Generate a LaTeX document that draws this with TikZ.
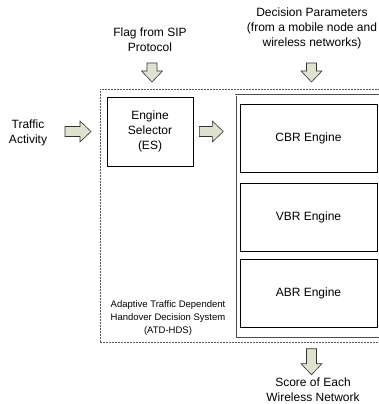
\documentclass[tikz,border=0pt]{standalone}
\usepackage{fontspec}
\setmainfont{Liberation Sans}
\usepackage{tikz}
\definecolor{arrowfill}{RGB}{222,226,206}

% fat outlined arrow: #1 tip point, #2 direction angle, #3 length
\newcommand{\blockarrow}[3]{%
  \draw[arrowline, shift={(#1)}, rotate=#2]
    (0,0) -- (-11,-10.5) -- (-11,-5) -- (-#3,-5) -- (-#3,5) -- (-11,5) -- (-11,10.5) -- cycle;}

\begin{document}
\begin{tikzpicture}[x=1pt, y=-1pt,
  lbl/.style={align=center, inner sep=0pt, font=\fontsize{12}{15}\selectfont},
  smalllbl/.style={align=center, inner sep=0pt, font=\fontsize{9.5}{13}\selectfont},
  plainbox/.style={draw=black, line width=0.6pt, inner sep=0pt, align=center, font=\fontsize{12}{15}\selectfont},
  arrowline/.style={draw=black!80, fill=arrowfill, line width=0.6pt, line join=miter}]
  % Picture area (the system box runs off the right edge)
  \clip (0,0) rectangle (379,404);

  % Dashed system boundary and the engine group
  \node[draw=black!65, dash pattern=on 2pt off 1pt, line width=0.7pt, minimum width=300pt, minimum height=253pt, anchor=north west, inner sep=0pt] (sys) at (100,89) {};
  \node[draw=black!70, double, double distance=0.9pt, line width=0.5pt, minimum width=170pt, minimum height=243pt, anchor=north west, inner sep=0pt] (engines) at (235.5,95) {};

  % Selector and engines
  \node[plainbox, minimum width=86pt, minimum height=69pt] (es) at (150,131.5) {Engine\\Selector\\(ES)};
  \node[plainbox, minimum width=137pt, minimum height=68pt] (cbr) at (308.5,138) {CBR Engine};
  \node[plainbox, minimum width=137pt, minimum height=68pt] (vbr) at (308.5,217) {VBR Engine};
  \node[plainbox, minimum width=137pt, minimum height=68pt] (abr) at (308.5,293) {ABR Engine};

  % Labels
  \node[lbl] (flag) at (150,40) {Flag from SIP\\Protocol};
  \node[lbl] (params) at (312,28.5) {Decision Parameters\\(from a mobile node and\\wireless networks)};
  \node[lbl] (traffic) at (28,133) {Traffic\\Activity};
  \node[lbl] (score) at (313,389.5) {Score of Each\\Wireless Network};
  \node[smalllbl] (sysname) at (168,318) {Adaptive Traffic Dependent\\Handover Decision System\\(ATD-HDS)};

  % Arrow tips
  \coordinate (flagtip) at ([xshift=2pt, yshift=7pt]sys.north -| es.center);
  \coordinate (paramtip) at ([xshift=3pt, yshift=7pt]sys.north -| cbr.center);
  \coordinate (intip) at ([xshift=-9pt]sys.west |- es.center);
  \coordinate (estip) at ([xshift=30pt]es.east);
  \coordinate (scoretip) at ([xshift=3pt, yshift=-32pt]sys.south -| cbr.center);

  % Block arrows
  \blockarrow{flagtip}{-90}{19}
  \blockarrow{paramtip}{-90}{19}
  \blockarrow{intip}{0}{26}
  \blockarrow{estip}{0}{24}
  \blockarrow{scoretip}{-90}{26}
\end{tikzpicture}
\end{document}
